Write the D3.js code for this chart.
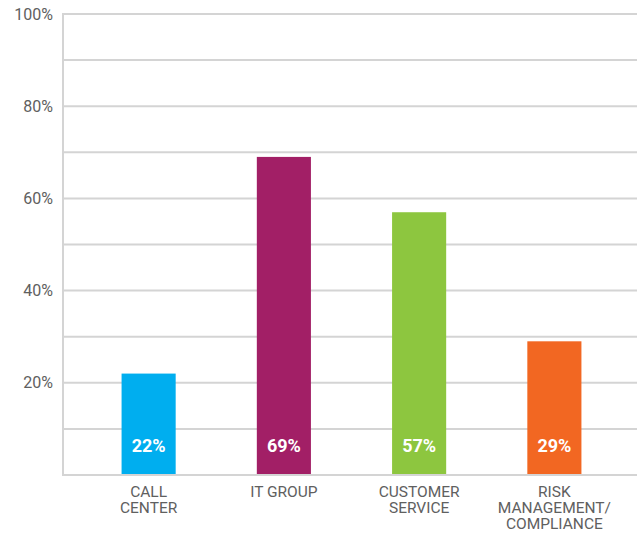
<!DOCTYPE html>
<html>
<head>
<meta charset="utf-8">
<script src="https://cdn.jsdelivr.net/npm/d3@7"></script>
<style>
  html, body { margin: 0; padding: 0; background: #fff; }
  svg { display: block; }
</style>
</head>
<body>
<svg id="chart" width="640" height="533"></svg>
<script>
// Share of respondents by department
const categories = [["CALL", "CENTER"], ["IT GROUP"], ["CUSTOMER", "SERVICE"], ["RISK", "MANAGEMENT/", "COMPLIANCE"]];
const values = [22, 69, 57, 29];
const colors = ["#00AEEF", "#A21F66", "#8DC63F", "#F26722"];
const gridValues = [10, 20, 30, 40, 50, 60, 70, 80, 90, 100];
const tickLabels = [20, 40, 60, 80, 100];

const svg = d3.select("#chart");
const plotLeft = 63, plotRight = 637, plotTop = 14, plotBottom = 475;
const font = "Roboto, 'Helvetica Neue', Arial, sans-serif";

const y = d3.scaleLinear().domain([0, 100]).range([plotBottom, plotTop]);
const x = d3.scaleBand()
  .domain(d3.range(values.length))
  .range([81, 622])
  .paddingInner(0.6)
  .paddingOuter(0.3);

// horizontal gridlines
svg.append("g")
  .selectAll("line")
  .data(gridValues)
  .join("line")
  .attr("x1", plotLeft)
  .attr("x2", plotRight)
  .attr("y1", d => y(d))
  .attr("y2", d => y(d))
  .attr("stroke", "#d4d4d4")
  .attr("stroke-width", 2);

// y tick labels
const yAxis = d3.axisLeft(y)
  .tickValues(tickLabels)
  .tickFormat(d => d + "%")
  .tickSize(0)
  .tickPadding(10);
const yg = svg.append("g")
  .attr("transform", `translate(${plotLeft},0)`)
  .call(yAxis);
yg.select(".domain").remove();
yg.selectAll("text")
  .attr("font-family", font)
  .attr("font-size", 16)
  .attr("fill", "#606060")
  .attr("font-weight", 400);

// bars
svg.append("g")
  .selectAll("rect")
  .data(values)
  .join("rect")
  .attr("x", (d, i) => x(i))
  .attr("width", x.bandwidth())
  .attr("y", d => y(d))
  .attr("height", d => y(0) - y(d))
  .attr("fill", (d, i) => colors[i]);

// axis lines (left and baseline)
svg.append("line")
  .attr("x1", plotLeft).attr("x2", plotLeft)
  .attr("y1", plotTop - 1).attr("y2", plotBottom + 1)
  .attr("stroke", "#d4d4d4").attr("stroke-width", 2);
svg.append("line")
  .attr("x1", plotLeft).attr("x2", plotRight)
  .attr("y1", plotBottom).attr("y2", plotBottom)
  .attr("stroke", "#d4d4d4").attr("stroke-width", 2);

// value labels inside bars
svg.append("g")
  .selectAll("text")
  .data(values)
  .join("text")
  .attr("x", (d, i) => x(i) + x.bandwidth() / 2)
  .attr("y", 452)
  .attr("text-anchor", "middle")
  .attr("font-family", font)
  .attr("font-size", 18)
  .attr("font-weight", 700)
  .attr("fill", "#fff")
  .text(d => d + "%");

// category labels, one text element per line
const catGroups = svg.append("g")
  .selectAll("g")
  .data(categories)
  .join("g")
  .attr("transform", (d, i) => `translate(${x(i) + x.bandwidth() / 2},0)`);
catGroups.selectAll("text")
  .data(d => d)
  .join("text")
  .attr("x", 0)
  .attr("y", (d, i) => 497 + i * 16)
  .attr("text-anchor", "middle")
  .attr("font-family", font)
  .attr("font-size", 15.5)
  .attr("font-weight", 400)
  .attr("fill", "#606060")
  .text(d => d);
</script>
</body>
</html>
